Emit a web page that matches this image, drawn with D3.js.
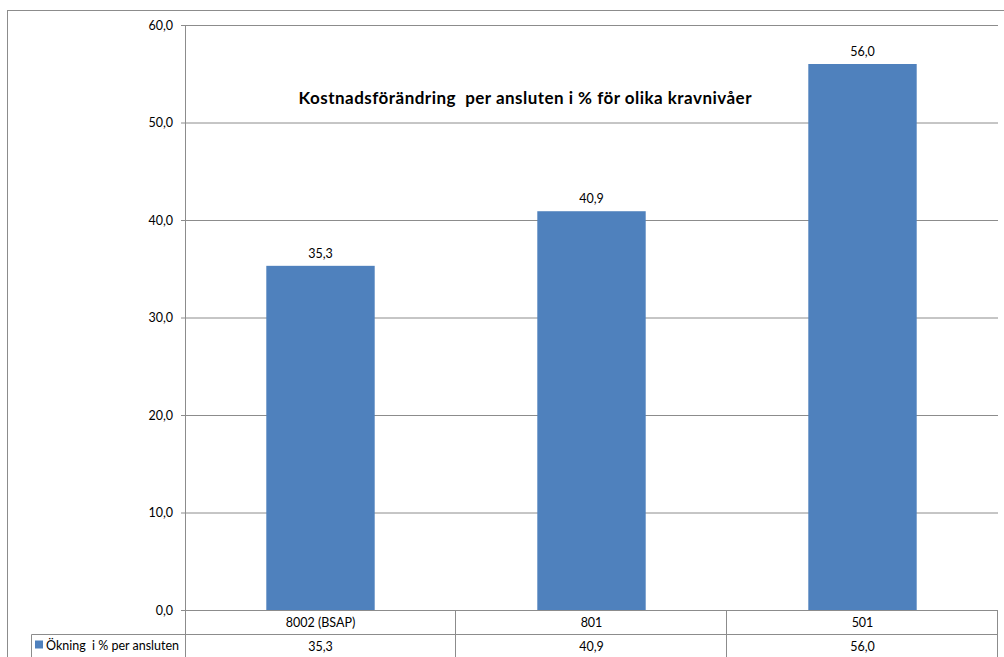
<!DOCTYPE html>
<html>
<head>
<meta charset="utf-8">
<script src="https://cdn.jsdelivr.net/npm/d3@7"></script>
<style>
  body { margin: 0; background: #fff; }
  text { font-family: Lato, "Open Sans", sans-serif; fill: #000; }
</style>
</head>
<body>
<div id="chart"></div>
<script>
// data
const categories = ['8002 (BSAP)', '801', '501'];
const values = [35.3, 40.9, 56.0];
const seriesName = 'Ökning  i % per ansluten';
const yTicks = [0, 10, 20, 30, 40, 50, 60];
const title = 'Kostnadsförändring  per ansluten i % för olika kravnivåer';

const width = 1004, height = 657;
const margin = {top: 25, left: 185, right: 6, bottom: 47};
const fs = 12.5;
const fmt = v => d3.format('.1f')(v).replace('.', ',');

const svg = d3.select('#chart').append('svg')
    .attr('width', width)
    .attr('height', height);

// outer chart border (cropped at right/bottom)
svg.append('rect')
    .attr('x', 7.5).attr('y', 10.5)
    .attr('width', width).attr('height', height)
    .attr('fill', 'none').attr('stroke', '#8c8c8c');

const x = d3.scaleBand()
    .domain(categories)
    .range([margin.left, width - margin.right]);
const y = d3.scaleLinear()
    .domain([0, 60])
    .range([height - margin.bottom, margin.top]);

// gridlines + axis
const yAxis = d3.axisLeft(y)
    .tickValues(yTicks)
    .tickSize(-(width - margin.right - margin.left))
    .tickPadding(12)
    .tickFormat(fmt);
const gy = svg.append('g')
    .attr('transform', `translate(${margin.left},0)`)
    .call(yAxis);
gy.select('.domain').remove();
gy.selectAll('.tick line').attr('stroke', '#8c8c8c').attr('x1', -4);
gy.selectAll('.tick text').attr('font-size', fs).attr('fill', '#000')
    .style('font-family', 'Lato, sans-serif');

// bars
const barW = x.bandwidth() * 0.4;
svg.append('g').selectAll('rect')
    .data(values)
    .join('rect')
    .attr('x', (d, i) => x(categories[i]) + (x.bandwidth() - barW) / 2)
    .attr('y', d => y(d))
    .attr('width', barW)
    .attr('height', d => y(0) - y(d))
    .attr('fill', '#4f81bd');

// data labels
svg.append('g').selectAll('text')
    .data(values)
    .join('text')
    .attr('x', (d, i) => x(categories[i]) + x.bandwidth() / 2)
    .attr('y', d => y(d) - 8)
    .attr('text-anchor', 'middle')
    .attr('font-size', fs)
    .text(fmt);

// y axis line, extended through the table
svg.append('line')
    .attr('x1', margin.left + 0.5).attr('x2', margin.left + 0.5)
    .attr('y1', margin.top).attr('y2', height)
    .attr('stroke', '#8c8c8c');

// data table
const row1 = y(0), row2 = y(0) + 24.5;
const tbl = svg.append('g').attr('stroke', '#8c8c8c');
tbl.append('line').attr('x1', 31.5).attr('x2', width - margin.right)
    .attr('y1', row2).attr('y2', row2);
tbl.append('line').attr('x1', 31.5).attr('x2', 31.5)
    .attr('y1', row2).attr('y2', height);
tbl.selectAll('line.v')
    .data(categories)
    .join('line')
    .attr('class', 'v')
    .attr('x1', d => Math.round(x(d) + x.bandwidth()) - 0.5)
    .attr('x2', d => Math.round(x(d) + x.bandwidth()) - 0.5)
    .attr('y1', row1).attr('y2', height);

svg.append('g').selectAll('text')
    .data(categories)
    .join('text')
    .attr('x', d => x(d) + x.bandwidth() / 2)
    .attr('y', row1 + 16.5)
    .attr('text-anchor', 'middle')
    .attr('font-size', fs)
    .text(d => d);

svg.append('g').selectAll('text')
    .data(values)
    .join('text')
    .attr('x', (d, i) => x(categories[i]) + x.bandwidth() / 2)
    .attr('y', row2 + 16.5)
    .attr('text-anchor', 'middle')
    .attr('font-size', fs)
    .text(fmt);

// legend key in table
svg.append('rect')
    .attr('x', 35).attr('y', row2 + 6)
    .attr('width', 8).attr('height', 8)
    .attr('fill', '#4f81bd');
svg.append('text')
    .attr('x', 46).attr('y', row2 + 15)
    .attr('font-size', fs)
    .attr('textLength', 133)
    .style('white-space', 'pre')
    .text(seriesName);

// title
svg.append('text')
    .attr('x', 525).attr('y', 104)
    .attr('text-anchor', 'middle')
    .attr('font-size', 17)
    .attr('font-weight', 'bold')
    .attr('textLength', 453)
    .style('white-space', 'pre')
    .text(title);
</script>
</body>
</html>
